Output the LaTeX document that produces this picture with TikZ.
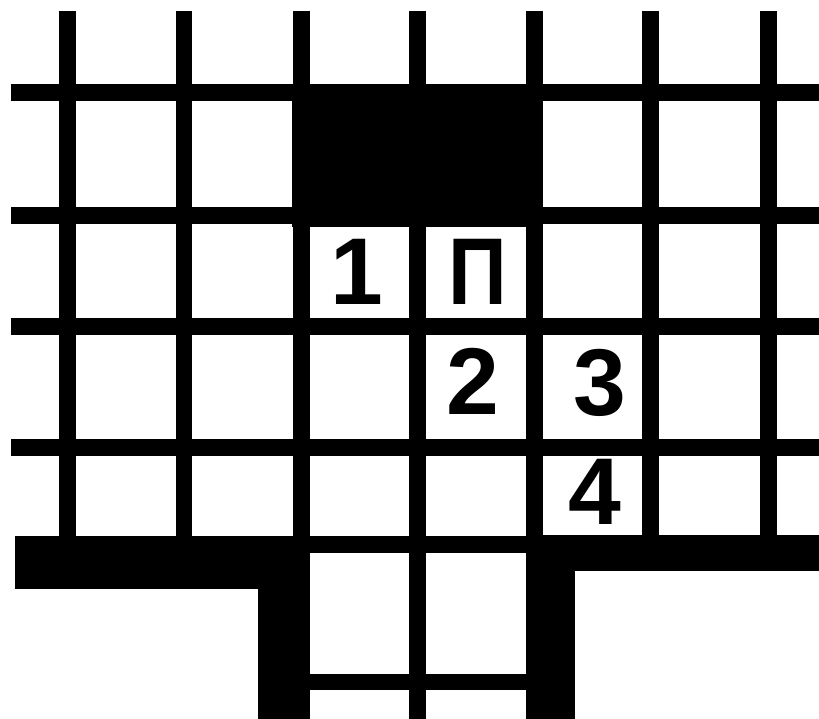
\documentclass[tikz,border=0pt]{standalone}
\usepackage{fontspec}
\setmainfont{Liberation Sans}

\begin{document}
\begin{tikzpicture}[x=0.02cm, y=-0.02cm, bar/.style={line width=0.34cm}, block/.style={fill=black}, digit/.style={font=\bfseries\fontsize{54}{60}\selectfont, inner sep=0pt}]
\useasboundingbox (0,0) rectangle (819,719);
\fill[block] (292,85) rectangle (543,227);
\draw[bar] (11,93)--(819,93); \draw[bar] (11,216)--(819,216); \draw[bar] (11,327)--(819,327); \draw[bar] (11,448)--(819,448);
\foreach \x in {67.5,184,301,534.5,650.5,768.5} \draw[bar] (\x,11)--(\x,540);
\draw[bar] (417,11)--(417,719);
\draw[bar] (301,544.5)--(534,544.5); \draw[bar] (310,682)--(526,682);
\fill[block] (15,536) rectangle (310,589); \fill[block] (258,536) rectangle (310,719);
\fill[block] (526,535) rectangle (819,571); \fill[block] (526,535) rectangle (575,719);
\node[digit] (one) at (357,272) {1};
\node[digit, xscale=0.86] (pe) at (478,272) {П};
\node[digit] (two) at (473,381) {2};
\node[digit] (three) at (600,383) {3};
\node[digit] (four) at (595,492) {4};
\end{tikzpicture}
\end{document}
